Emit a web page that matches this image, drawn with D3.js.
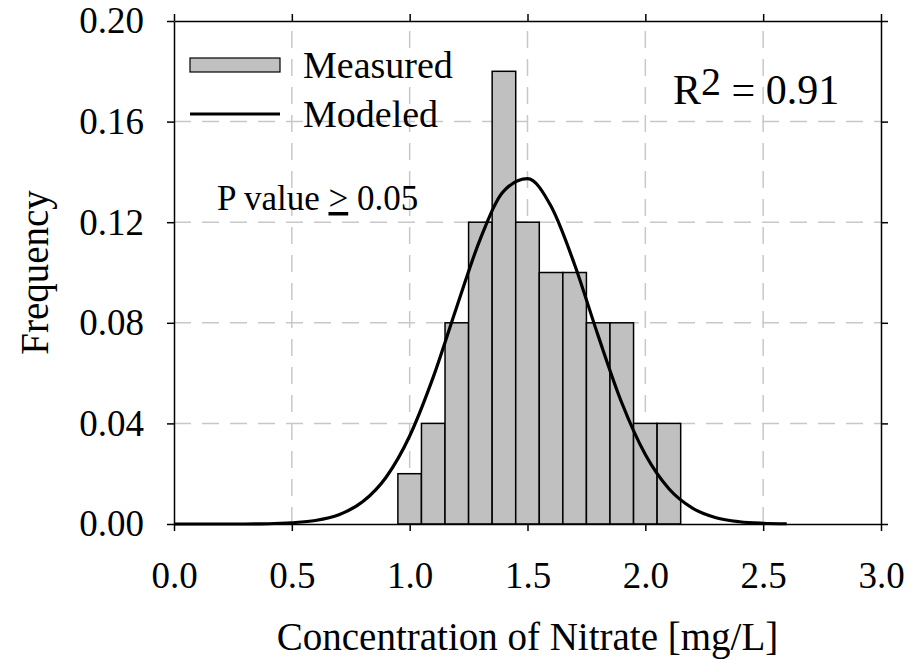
<!DOCTYPE html>
<html>
  <head>
    <meta charset="UTF-8">
    <style>
      body { margin: 0; background: #fff; }
      svg text { font-family: "Liberation Serif", "Times New Roman", serif; fill: #000; }
      .grid line { stroke: #c8c8c8; stroke-width: 1.5; stroke-dasharray: 17,11; }
      .axis path, .axis line { stroke: #000; stroke-width: 1.5; }
      .axis text { font-size: 37px; }
      .bar { fill: #c0c0c0; stroke: #000; stroke-width: 1.5; }
    </style>
    <script src="https://d3js.org/d3.v7.min.js"></script>
  </head>
  <body>
    <script type="text/javascript">
      // histogram bins (edges) and measured frequency
      var binEdges = [0.95, 1.05, 1.15, 1.25, 1.35, 1.45, 1.55, 1.65, 1.75, 1.85, 1.95, 2.05, 2.15];
      var measured = [0.02, 0.04, 0.08, 0.12, 0.18, 0.12, 0.10, 0.10, 0.08, 0.08, 0.04, 0.04];

      // modeled curve
      var modeledX = [0.0, 0.1, 0.2, 0.3, 0.4, 0.5, 0.6, 0.7, 0.8, 0.9, 1.0, 1.1, 1.2, 1.3,
                      1.4, 1.5, 1.6, 1.7, 1.8, 1.9, 2.0, 2.1, 2.2, 2.3, 2.4, 2.5, 2.6];
      var modeledY = [0.0000, 0.0000, 0.0000, 0.0000, 0.0001, 0.0005, 0.0014, 0.0037, 0.0088,
                      0.0186, 0.0350, 0.0584, 0.0864, 0.1134, 0.1325, 0.1373, 0.1263, 0.1031,
                      0.0748, 0.0482, 0.0276, 0.0140, 0.0063, 0.0025, 0.0009, 0.0003, 0.0001];

      var xTicks = [0.0, 0.5, 1.0, 1.5, 2.0, 2.5, 3.0];
      var yTicks = [0.00, 0.04, 0.08, 0.12, 0.16, 0.20];

      (function() {
      var width = 921, height = 661;
      var pl = 174, pr = 881, pt = 21, pb = 524;

      var x = d3.scaleLinear().domain([0, 3]).range([pl, pr]);
      var y = d3.scaleLinear().domain([0, 0.2]).range([pb, pt]);

      var svg = d3.select("body").append("svg")
        .attr("width", width)
        .attr("height", height);

      // grid
      var grid = svg.append("g").attr("class", "grid");
      grid.selectAll(".gx")
        .data(xTicks.slice(1, -1))
        .enter().append("line")
        .attr("x1", function(d) { return x(d); })
        .attr("x2", function(d) { return x(d); })
        .attr("y1", pb)
        .attr("y2", pt);
      grid.selectAll(".gy")
        .data(yTicks.slice(1, -1))
        .enter().append("line")
        .attr("x1", pl)
        .attr("x2", pr)
        .attr("y1", function(d) { return y(d); })
        .attr("y2", function(d) { return y(d); });

      // bars
      svg.selectAll(".bar")
        .data(measured)
        .enter().append("rect")
        .attr("class", "bar")
        .attr("x", function(d, i) { return x(binEdges[i]); })
        .attr("width", function(d, i) { return x(binEdges[i + 1]) - x(binEdges[i]); })
        .attr("y", function(d) { return y(d); })
        .attr("height", function(d) { return y(0) - y(d); });

      // axes
      svg.append("g").attr("class", "axis")
        .attr("transform", "translate(0," + pb + ")")
        .call(d3.axisBottom(x).tickValues(xTicks).tickSize(7).tickSizeOuter(0)
          .tickPadding(31).tickFormat(d3.format(".1f")));
      svg.append("g").attr("class", "axis")
        .attr("transform", "translate(0," + pt + ")")
        .call(d3.axisTop(x).tickValues(xTicks).tickSize(7).tickSizeOuter(0).tickFormat(""));
      svg.append("g").attr("class", "axis")
        .attr("transform", "translate(" + pl + ",0)")
        .call(d3.axisLeft(y).tickValues(yTicks).tickSize(7).tickSizeOuter(0)
          .tickPadding(23).tickFormat(d3.format(".2f")));
      svg.append("g").attr("class", "axis")
        .attr("transform", "translate(" + pr + ",0)")
        .call(d3.axisRight(y).tickValues(yTicks).tickSize(7).tickSizeOuter(0).tickFormat(""));
      svg.selectAll(".axis").attr("font-family", null).attr("font-size", null);

      // modeled curve
      var line = d3.line()
        .x(function(d) { return x(d[0]); })
        .y(function(d) { return y(d[1]); })
        .curve(d3.curveMonotoneX);
      svg.append("path")
        .datum(d3.zip(modeledX, modeledY))
        .attr("d", line)
        .attr("fill", "none")
        .attr("stroke", "#000")
        .attr("stroke-width", 3.2);

      // legend
      svg.append("rect")
        .attr("x", 190).attr("y", 58).attr("width", 90).attr("height", 14)
        .attr("fill", "#c0c0c0").attr("stroke", "#000").attr("stroke-width", 1.2);
      svg.append("line")
        .attr("x1", 190).attr("x2", 280).attr("y1", 114).attr("y2", 114)
        .attr("stroke", "#000").attr("stroke-width", 3.2);
      svg.append("text").attr("x", 303).attr("y", 78).style("font-size", "38px").text("Measured");
      svg.append("text").attr("x", 303).attr("y", 127).style("font-size", "38px").text("Modeled");

      // annotations
      var pv = svg.append("text").attr("x", 217).attr("y", 210).style("font-size", "35px");
      pv.append("tspan").text("P value ");
      pv.append("tspan").style("text-decoration", "underline").text(">");
      pv.append("tspan").text(" 0.05");
      var r2 = svg.append("text").attr("x", 673).attr("y", 104).style("font-size", "42px");
      r2.append("tspan").text("R");
      r2.append("tspan").attr("dy", -9).style("font-size", "40px").text("2");
      r2.append("tspan").attr("dy", 9).text(" = 0.91");

      // axis titles
      svg.append("text")
        .attr("x", (pl + pr) / 2).attr("y", 650)
        .attr("text-anchor", "middle").style("font-size", "39px")
        .text("Concentration of Nitrate [mg/L]");
      svg.append("text")
        .attr("transform", "translate(48," + (pt + pb) / 2 + ") rotate(-90)")
        .attr("text-anchor", "middle").style("font-size", "39px")
        .text("Frequency");
      })();
    </script>
  </body>
</html>
